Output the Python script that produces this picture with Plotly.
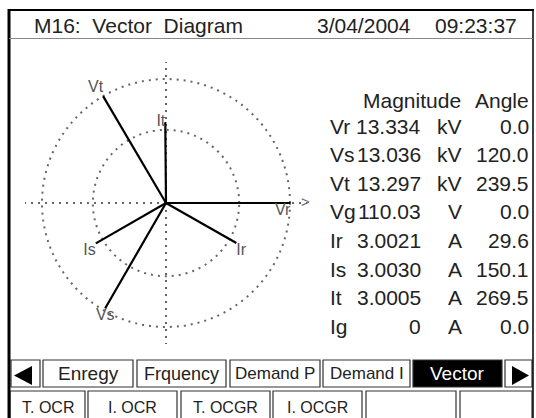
import plotly.graph_objects as go

W, H = 536, 418

# ---------------- data ----------------
names = ["Vr", "Vs", "Vt", "Vg", "Ir", "Is", "It", "Ig"]
magnitudes = [13.334, 13.036, 13.297, 110.03, 3.0021, 3.0030, 3.0005, 0]
units = ["kV", "kV", "kV", "V", "A", "A", "A", "A"]
angles = [0.0, 120.0, 239.5, 0.0, 29.6, 150.1, 269.5, 0.0]
drawn = ["Vr", "Vs", "Vt", "Ir", "Is", "It"]
full_scale = {"kV": 13.3, "A": 4.6}

title_text = "M16:\u00a0\u00a0Vector\u00a0\u00a0Diagram"
date_text = "3/04/2004"
time_text = "09:23:37"
tabs_row1 = ["Enregy", "Frquency", "Demand P", "Demand I", "Vector"]
tabs_row2 = ["T. OCR", "I. OCR", "T. OCGR", "I. OCGR", "", ""]
active_tab = "Vector"

# ---------------- helpers (pixel -> paper) ----------------
def X(x):
    return x / W

def Y(y):
    return 1 - y / H

FONT = "Liberation Sans, Arial, sans-serif"
TXT = "#222222"

fig = go.Figure()

# ---------------- vector diagram (polar) ----------------
cx, cy, R_OUT, R_EDGE = 166, 203, 124, 141
RMAX = R_EDGE / R_OUT

label_pos = {"Vr": "bottom left", "Vs": "bottom center", "Vt": "top left",
             "Ir": "bottom right", "Is": "bottom left", "It": "middle left"}

for nm, m, u, a in zip(names, magnitudes, units, angles):
    if nm not in drawn:
        continue
    fig.add_trace(go.Scatterpolar(
        r=[0, m / full_scale[u]], theta=[a, a],
        mode="lines+text", text=["", nm],
        textposition=["middle center", label_pos[nm]],
        textfont=dict(family=FONT, size=16, color="#555555"),
        line=dict(color="black", width=2.2),
        cliponaxis=False, showlegend=False, hoverinfo="skip"))

# axis arrow heads
fig.add_trace(go.Scatterpolar(
    r=[1.125, 1.16], theta=[0, 270], mode="text", text=[">", "^"],
    textfont=dict(family=FONT, size=15, color="#666666"),
    cliponaxis=False, showlegend=False, hoverinfo="skip"))

fig.update_layout(
    polar=dict(
        domain=dict(x=[X(cx - R_EDGE), X(cx + R_EDGE)],
                    y=[Y(cy + R_EDGE), Y(cy - R_EDGE)]),
        bgcolor="rgba(0,0,0,0)",
        radialaxis=dict(range=[0, RMAX], tickvals=[0.59, 1.0],
                        showticklabels=False, ticks="", showline=False,
                        gridcolor="#666666", gridwidth=2, griddash="2px,5px"),
        angularaxis=dict(direction="clockwise", rotation=0,
                         tickvals=[0, 90, 180, 270], showticklabels=False,
                         ticks="", showline=False,
                         gridcolor="#666666", gridwidth=2, griddash="2px,5px"),
    )
)

shapes = []
ann = []

def line(x0, y0, x1, y1, w=1, c="black"):
    shapes.append(dict(type="line", xref="paper", yref="paper",
                       x0=X(x0), y0=Y(y0), x1=X(x1), y1=Y(y1),
                       line=dict(color=c, width=w)))

def rect(x0, y0, x1, y1, fill="white", c="#333333", w=1.2):
    shapes.append(dict(type="rect", xref="paper", yref="paper",
                       x0=X(x0), y0=Y(y0), x1=X(x1), y1=Y(y1),
                       fillcolor=fill, line=dict(color=c, width=w), layer="below"))

def text(x, y, s, size=20, anchor="left", color=TXT, family=FONT, yanchor="middle"):
    ann.append(dict(xref="paper", yref="paper", x=X(x), y=Y(y), text=s,
                    showarrow=False, xanchor=anchor, yanchor=yanchor,
                    font=dict(family=family, size=size, color=color)))

# ---------------- frame & title ----------------
line(9, 9, 9, 420, w=3)
line(8, 10, 534, 10, w=2)
line(533, 9, 533, 420, w=1.5)
line(9, 38.5, 533, 38.5, w=1, c="#888888")
text(32, 25, title_text, size=21)
text(315, 25, date_text, size=21)
text(519, 25, time_text, size=21, anchor="right")

# ---------------- table ----------------
def fmt_mag(v):
    return "0" if v == 0 else f"{v:#.5g}"

text(463, 100, "Magnitude", size=21, anchor="right")
text(531, 100, "Angle", size=21, anchor="right")
y0, dy = 126, 28.6
for i, (nm, m, u, a) in enumerate(zip(names, magnitudes, units, angles)):
    yy = y0 + i * dy
    text(328, yy, nm, size=21)
    text(423, yy, fmt_mag(m), size=21, anchor="right")
    text(464, yy, u, size=21, anchor="right")
    text(531, yy, f"{a:.1f}", size=21, anchor="right")

# ---------------- tab buttons ----------------
row1_x = [(43, 133), (137, 226), (230, 320), (323, 410), (413, 502)]
r1y0, r1y1 = 360, 387
rect(11, r1y0, 40, r1y1)
rect(505, r1y0, 532, r1y1)
shapes.append(dict(type="path", xref="paper", yref="paper",
                   path=f"M {X(32)} {Y(366)} L {X(14)} {Y(375.5)} L {X(32)} {Y(385)} Z",
                   fillcolor="black", line=dict(width=0)))
shapes.append(dict(type="path", xref="paper", yref="paper",
                   path=f"M {X(512)} {Y(366)} L {X(529)} {Y(375.5)} L {X(512)} {Y(385)} Z",
                   fillcolor="black", line=dict(width=0)))
tab_size = {"Enregy": 19, "Frquency": 18, "Demand P": 17, "Demand I": 17, "Vector": 19}
for lbl, (a0, a1) in zip(tabs_row1, row1_x):
    active = lbl == active_tab
    rect(a0, r1y0, a1, r1y1, fill="black" if active else "white")
    text((a0 + a1) / 2, (r1y0 + r1y1) / 2, lbl, size=tab_size[lbl],
         anchor="center", color="white" if active else TXT)

row2_x = [(10, 85), (88, 177), (181, 270), (273, 362), (366, 456), (460, 532)]
r2y0, r2y1 = 391, 422
for lbl, (a0, a1) in zip(tabs_row2, row2_x):
    rect(a0, r2y0, a1, r2y1)
    if lbl:
        text((a0 + a1) / 2, 418, lbl, size=16, anchor="center", yanchor="bottom")

fig.update_layout(
    width=W, height=H, margin=dict(l=0, r=0, t=0, b=0),
    paper_bgcolor="white", plot_bgcolor="white",
    shapes=shapes, annotations=ann, showlegend=False,
)

fig.write_html("out.html", config={"displayModeBar": False},
               post_script="document.body.style.margin='0';document.body.style.overflow='hidden';")
